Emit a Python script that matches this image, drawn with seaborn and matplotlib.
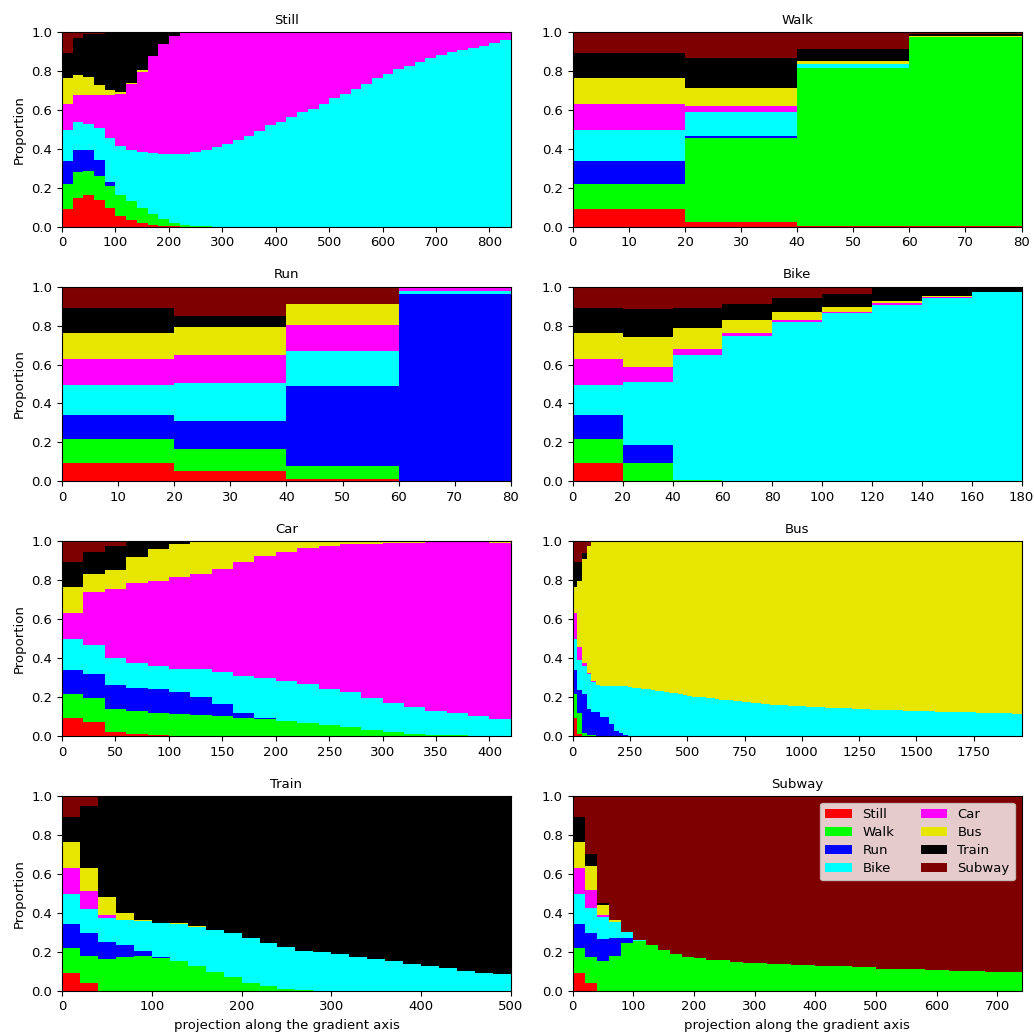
import numpy as np
import pandas as pd
import matplotlib
matplotlib.use("Agg")
import matplotlib.pyplot as plt
from matplotlib.patches import Patch
import seaborn as sns

# classes, bottom to top of every stack
modes = ["Still", "Walk", "Run", "Bike", "Car", "Bus", "Train", "Subway"]
mode_colors = ["#ff0000", "#00ff00", "#0000ff", "#00ffff",
               "#ff00ff", "#e6e600", "#000000", "#7f0000"]
bin_width = 20

# each row = cumulative top of Still, Walk, Run, Bike, Car, Bus, Train (Subway fills to 1)
prior = (0.092, 0.217, 0.340, 0.497, 0.630, 0.764, 0.892)

still_head = [
    prior,
    (0.150, 0.279, 0.393, 0.537, 0.674, 0.779, 0.968),
    (0.164, 0.284, 0.393, 0.530, 0.677, 0.769, 0.988),
    (0.138, 0.262, 0.344, 0.506, 0.674, 0.728, 0.992),
    (0.096, 0.210, 0.229, 0.458, 0.674, 0.701, 0.994),
    (0.053, 0.164, 0.164, 0.417, 0.680, 0.694, 0.995),
    (0.036, 0.133, 0.133, 0.393, 0.732, 0.737, 0.996),
    (0.017, 0.096, 0.096, 0.383, 0.797, 0.803, 0.997),
    (0.009, 0.067, 0.067, 0.380, 0.875, 0.877, 1.0),
    (0.005, 0.041, 0.041, 0.376, 0.940, 0.940, 1.0),
    (0.002, 0.021, 0.021, 0.376, 0.978, 0.978, 1.0),
    (0.0, 0.010, 0.010, 0.376, 1.0, 1.0, 1.0),
    (0.0, 0.005, 0.005, 0.383, 1.0, 1.0, 1.0),
    (0.0, 0.003, 0.003, 0.393, 1.0, 1.0, 1.0),
]
# Bike top for the rest of the Still panel (Car above it)
still_bike_tail = [0.407, 0.424, 0.446, 0.467, 0.494, 0.523, 0.537, 0.564, 0.587,
                   0.605, 0.632, 0.660, 0.684, 0.708, 0.732, 0.762, 0.786, 0.810,
                   0.824, 0.844, 0.865, 0.882, 0.896, 0.909, 0.920, 0.930, 0.944,
                   0.957]

walk_tops = [
    prior,
    (0.026, 0.455, 0.465, 0.591, 0.622, 0.715, 0.865),
    (0.005, 0.817, 0.817, 0.834, 0.834, 0.851, 0.913),
    (0.002, 0.974, 0.974, 0.974, 0.974, 0.981, 0.988),
]

run_tops = [
    prior,
    (0.051, 0.168, 0.311, 0.506, 0.650, 0.795, 0.851),
    (0.010, 0.077, 0.489, 0.668, 0.802, 0.913, 0.913),
    (0.0, 0.0, 0.964, 0.979, 0.995, 0.995, 0.995),
]

bike_tops = [
    prior,
    (0.0, 0.096, 0.185, 0.509, 0.588, 0.742, 0.885),
    (0.0, 0.009, 0.009, 0.650, 0.680, 0.788, 0.889),
    (0.0, 0.003, 0.003, 0.745, 0.762, 0.831, 0.909),
    (0.0, 0.0, 0.0, 0.817, 0.827, 0.868, 0.940),
    (0.0, 0.0, 0.0, 0.863, 0.872, 0.896, 0.964),
    (0.0, 0.0, 0.0, 0.906, 0.916, 0.926, 1.0),
    (0.0, 0.0, 0.0, 0.940, 0.949, 0.952, 1.0),
    (0.0, 0.0, 0.0, 0.971, 0.971, 0.971, 1.0),
]

car_tops = [
    prior,
    (0.074, 0.195, 0.316, 0.467, 0.742, 0.834, 0.944),
    (0.021, 0.140, 0.262, 0.400, 0.756, 0.851, 0.974),
    (0.009, 0.128, 0.244, 0.376, 0.786, 0.920, 0.995),
    (0.005, 0.116, 0.241, 0.359, 0.797, 0.961, 0.998),
    (0.002, 0.113, 0.224, 0.345, 0.817, 0.988, 1.0),
    (0.0, 0.109, 0.198, 0.342, 0.834, 0.995, 1.0),
    (0.0, 0.103, 0.164, 0.328, 0.858, 1.0, 1.0),
    (0.0, 0.092, 0.116, 0.308, 0.896, 1.0, 1.0),
    (0.0, 0.085, 0.094, 0.297, 0.926, 1.0, 1.0),
    (0.0, 0.075, 0.075, 0.284, 0.947, 1.0, 1.0),
    (0.0, 0.065, 0.065, 0.267, 0.968, 1.0, 1.0),
    (0.0, 0.055, 0.055, 0.243, 0.978, 1.0, 1.0),
    (0.0, 0.044, 0.044, 0.224, 0.985, 1.0, 1.0),
    (0.0, 0.031, 0.031, 0.195, 0.988, 1.0, 1.0),
    (0.0, 0.021, 0.021, 0.171, 0.991, 1.0, 1.0),
    (0.0, 0.012, 0.012, 0.147, 0.993, 1.0, 1.0),
    (0.0, 0.007, 0.007, 0.130, 0.995, 1.0, 1.0),
    (0.0, 0.003, 0.003, 0.120, 0.996, 1.0, 1.0),
    (0.0, 0.0, 0.0, 0.104, 0.998, 1.0, 1.0),
    (0.0, 0.0, 0.0, 0.089, 0.991, 0.996, 0.997),
]

bus_head = [
    prior,
    (0.010, 0.116, 0.236, 0.390, 0.458, 0.797, 0.892),
    (0.0, 0.014, 0.215, 0.359, 0.376, 0.908, 0.942),
    (0.0, 0.005, 0.138, 0.318, 0.325, 0.976, 0.976),
    (0.0, 0.003, 0.121, 0.275, 0.284, 1.0, 1.0),
    (0.0, 0.0, 0.121, 0.263, 0.263, 1.0, 1.0),
    (0.0, 0.0, 0.099, 0.258, 0.258, 1.0, 1.0),
    (0.0, 0.0, 0.099, 0.256, 0.256, 1.0, 1.0),
    (0.0, 0.0, 0.062, 0.256, 0.256, 1.0, 1.0),
    (0.0, 0.0, 0.027, 0.256, 0.256, 1.0, 1.0),
    (0.0, 0.0, 0.017, 0.255, 0.255, 1.0, 1.0),
    (0.0, 0.0, 0.007, 0.255, 0.255, 1.0, 1.0),
]
# Bike top for the rest of the Bus panel (Bus above it)
bus_bike_tail = [0.254, 0.246, 0.245, 0.242, 0.240, 0.236, 0.233, 0.229, 0.226,
                 0.222, 0.219, 0.216, 0.212, 0.207, 0.202, 0.200, 0.198, 0.196,
                 0.193, 0.190, 0.187, 0.185, 0.183, 0.181, 0.179, 0.176, 0.173,
                 0.170, 0.168, 0.166, 0.164, 0.161, 0.159, 0.157, 0.157, 0.156,
                 0.155, 0.153, 0.152, 0.150, 0.148, 0.147, 0.147, 0.146, 0.145,
                 0.145, 0.144, 0.143, 0.142, 0.141, 0.140, 0.139, 0.137, 0.136,
                 0.135, 0.134, 0.134, 0.133, 0.132, 0.131, 0.130, 0.130, 0.129,
                 0.128, 0.127, 0.127, 0.126, 0.125, 0.125, 0.124, 0.123, 0.123,
                 0.122, 0.122, 0.121, 0.121, 0.120, 0.119, 0.118, 0.117, 0.117,
                 0.116, 0.116, 0.116, 0.115, 0.115]

train_head = [
    prior,
    (0.041, 0.178, 0.294, 0.421, 0.513, 0.632, 0.947),
    (0.0, 0.161, 0.250, 0.373, 0.391, 0.480, 0.997),
    (0.0, 0.171, 0.232, 0.362, 0.362, 0.397, 1.0),
    (0.0, 0.178, 0.205, 0.356, 0.356, 0.362, 1.0),
    (0.0, 0.168, 0.173, 0.349, 0.349, 0.349, 1.0),
    (0.0, 0.150, 0.150, 0.342, 0.342, 0.345, 1.0),
    (0.0, 0.126, 0.126, 0.328, 0.328, 0.333, 1.0),
    (0.0, 0.096, 0.096, 0.311, 0.311, 0.311, 1.0),
    (0.0, 0.072, 0.072, 0.294, 0.294, 0.294, 1.0),
    (0.0, 0.041, 0.041, 0.270, 0.270, 0.270, 1.0),
    (0.0, 0.024, 0.024, 0.246, 0.246, 0.246, 1.0),
    (0.0, 0.010, 0.010, 0.222, 0.222, 0.222, 1.0),
    (0.0, 0.002, 0.002, 0.205, 0.205, 0.205, 1.0),
]
# Bike top for the rest of the Train panel (Train above it)
train_bike_tail = [0.198, 0.188, 0.174, 0.164, 0.150, 0.138, 0.126, 0.116,
                   0.103, 0.092, 0.085]

subway_head = [
    prior,
    (0.041, 0.173, 0.294, 0.424, 0.516, 0.638, 0.704),
    (0.0, 0.150, 0.267, 0.376, 0.386, 0.441, 0.451),
    (0.0, 0.178, 0.270, 0.352, 0.352, 0.362, 0.362),
    (0.0, 0.246, 0.270, 0.301, 0.301, 0.301, 0.301),
    (0.0, 0.256, 0.256, 0.260, 0.260, 0.260, 0.260),
]
# Walk top for the rest of the Subway panel (Subway above it)
subway_walk_tail = [0.236, 0.210, 0.186, 0.173, 0.168, 0.156, 0.156, 0.149,
                    0.144, 0.144, 0.137, 0.137, 0.133, 0.133, 0.126, 0.126,
                    0.126, 0.120, 0.120, 0.113, 0.113, 0.113, 0.113, 0.106,
                    0.106, 0.101, 0.101, 0.101, 0.096, 0.096, 0.096]

panels = {
    "Still": still_head + [(0, 0, 0, b, 1, 1, 1) for b in still_bike_tail],
    "Walk": walk_tops,
    "Run": run_tops,
    "Bike": bike_tops,
    "Car": car_tops,
    "Bus": bus_head + [(0, 0, 0, b, b, 1, 1) for b in bus_bike_tail],
    "Train": train_head + [(0, 0, 0, b, b, b, 1) for b in train_bike_tail],
    "Subway": subway_head + [(0, w, w, w, w, w, w) for w in subway_walk_tail],
}


def to_long(tops):
    rows = []
    for i, t in enumerate(tops):
        props = np.diff(np.concatenate([[0.0], t, [1.0]]))
        for m, p in zip(modes, props):
            rows.append({"x": i * bin_width + bin_width / 2, "mode": m, "w": max(p, 0.0)})
    return pd.DataFrame(rows)


palette = dict(zip(modes, mode_colors))
plt.rcParams["font.size"] = 9.5

fig, axes = plt.subplots(4, 2, figsize=(10.34, 10.33), dpi=100)
plt.subplots_adjust(left=0.060, right=0.988, top=0.969, bottom=0.041,
                    wspace=0.138, hspace=0.308)

for ax, (name, tops) in zip(axes.flat, panels.items()):
    df = to_long(tops)
    xmax = len(tops) * bin_width
    # seaborn stacks the last hue level at the bottom
    sns.histplot(data=df, x="x", hue="mode", weights="w",
                 binwidth=bin_width, binrange=(0, xmax),
                 multiple="stack", hue_order=modes[::-1], palette=palette,
                 alpha=1, linewidth=0, legend=False, ax=ax)
    ax.set_xlim(0, xmax)
    ax.set_ylim(0, 1)
    ax.set_yticks([0, 0.2, 0.4, 0.6, 0.8, 1.0])
    ax.set_title(name, fontsize=9.5)
    ax.set_xlabel("")
    ax.set_ylabel("")

for ax in axes[:, 0]:
    ax.set_ylabel("Proportion")
for ax in axes[-1, :]:
    ax.set_xlabel("projection along the gradient axis")

handles = [Patch(facecolor=c, label=m) for m, c in zip(modes, mode_colors)]
axes[-1, 1].legend(handles=handles, loc="upper right", ncol=2, labelspacing=0.38)

fig.savefig("out.png", dpi=100)
